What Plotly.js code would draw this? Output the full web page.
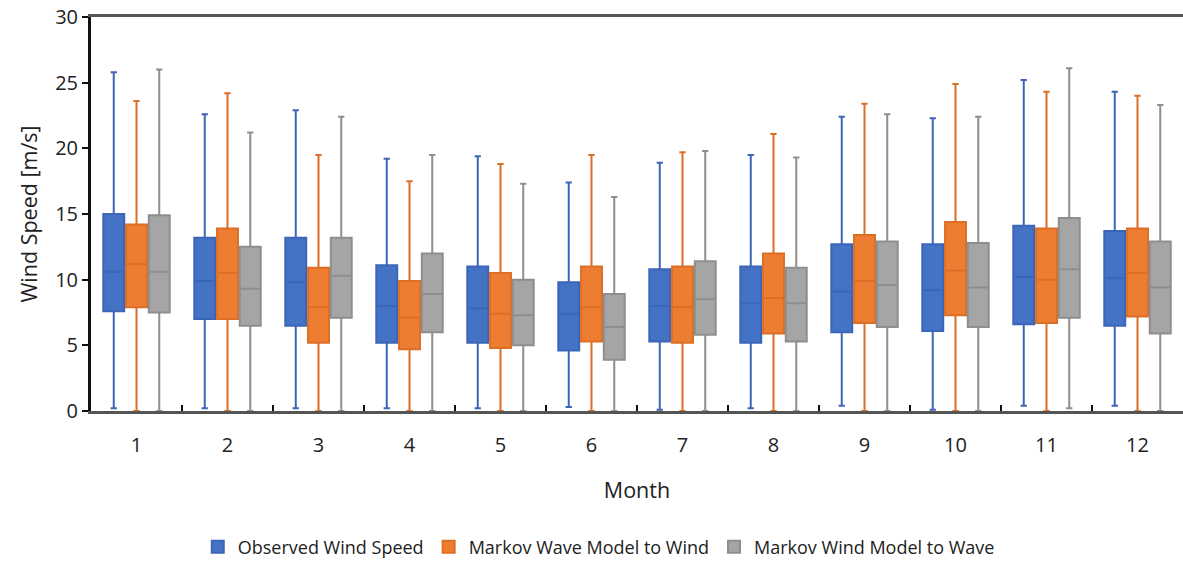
<!DOCTYPE html>
<html>
<head>
<meta charset="utf-8">
<script src="https://cdn.plot.ly/plotly-3.0.1.min.js"></script>
<style>html,body{margin:0;padding:0;background:#fff;}#chart{width:1183px;height:561px;}</style>
</head>
<body>
<div id="chart"></div>
<script>
const months = ['1','2','3','4','5','6','7','8','9','10','11','12'];

// Observed Wind Speed
const obsLow = [0.2,0.2,0.2,0.2,0.2,0.3,0.1,0.2,0.4,0.1,0.4,0.4];
const obsQ1  = [7.6,7.0,6.5,5.2,5.2,4.6,5.3,5.2,6.0,6.1,6.6,6.5];
const obsMed = [10.6,9.9,9.8,8.0,7.8,7.4,8.0,8.2,9.1,9.2,10.2,10.1];
const obsQ3  = [15.0,13.2,13.2,11.1,11.0,9.8,10.8,11.0,12.7,12.7,14.1,13.7];
const obsHigh= [25.8,22.6,22.9,19.2,19.4,17.4,18.9,19.5,22.4,22.3,25.2,24.3];

// Markov Wave Model to Wind
const wavLow = [0,0,0,0,0,0,0,0,0,0,0,0];
const wavQ1  = [7.9,7.0,5.2,4.7,4.8,5.3,5.2,5.9,6.7,7.3,6.7,7.2];
const wavMed = [11.2,10.5,7.9,7.1,7.4,7.9,7.9,8.6,9.9,10.7,10.0,10.5];
const wavQ3  = [14.2,13.9,10.9,9.9,10.5,11.0,11.0,12.0,13.4,14.4,13.9,13.9];
const wavHigh= [23.6,24.2,19.5,17.5,18.8,19.5,19.7,21.1,23.4,24.9,24.3,24.0];

// Markov Wind Model to Wave
const wndLow = [0,0,0,0,0,0,0,0,0,0,0.2,0];
const wndQ1  = [7.5,6.5,7.1,6.0,5.0,3.9,5.8,5.3,6.4,6.4,7.1,5.9];
const wndMed = [10.6,9.3,10.3,8.9,7.3,6.4,8.5,8.2,9.6,9.4,10.8,9.4];
const wndQ3  = [14.9,12.5,13.2,12.0,10.0,8.9,11.4,10.9,12.9,12.8,14.7,12.9];
const wndHigh= [26.0,21.2,22.4,19.5,17.3,16.3,19.8,19.3,22.6,22.4,26.1,23.3];

function boxTrace(name, low, q1, med, q3, high, fill, line) {
  return {
    type: 'box', name: name, x: months,
    lowerfence: low, q1: q1, median: med, q3: q3, upperfence: high,
    fillcolor: fill,
    line: {color: line, width: 2},
    whiskerwidth: 0.3,
    boxpoints: false,
    hoverinfo: 'y'
  };
}

const data = [
  boxTrace('Observed Wind Speed', obsLow, obsQ1, obsMed, obsQ3, obsHigh, '#4472C4', '#3B66B8'),
  boxTrace('Markov Wave Model to Wind', wavLow, wavQ1, wavMed, wavQ3, wavHigh, '#ED7D31', '#DC6E26'),
  boxTrace('Markov Wind Model to Wave', wndLow, wndQ1, wndMed, wndQ3, wndHigh, '#A5A5A5', '#8E8E8E')
];

const layout = {
  width: 1183, height: 561,
  margin: {l: 91, r: 0, t: 17, b: 150, autoexpand: false},
  paper_bgcolor: '#fff', plot_bgcolor: '#fff',
  font: {family: 'Open Sans, sans-serif', size: 20, color: '#222'},
  boxmode: 'group',
  boxgap: 0.25,
  boxgroupgap: 0.08,
  showlegend: true,
  legend: {
    orientation: 'h', x: 0.465, xanchor: 'center', y: -0.345, yanchor: 'middle',
    font: {size: 18, color: '#222'}, traceorder: 'normal'
  },
  xaxis: {
    type: 'category', automargin: false,
    title: {text: 'Month', font: {size: 21.5}, standoff: 26},
    tickfont: {size: 20},
    ticks: 'inside', tickson: 'boundaries', ticklen: 6, tickwidth: 2, tickcolor: '#111',
    ticklabelstandoff: 14,
    showline: true, linecolor: '#555', linewidth: 3, mirror: true,
    showgrid: false, zeroline: false
  },
  yaxis: {
    range: [0, 30], dtick: 5, automargin: false,
    title: {text: 'Wind Speed [m/s]', font: {size: 21.5}, standoff: 12},
    tickfont: {size: 20},
    ticks: 'outside', ticklen: 6, tickwidth: 2, tickcolor: '#111',
    showline: true, linecolor: '#111', linewidth: 3,
    showgrid: false, zeroline: false
  }
};

Plotly.newPlot('chart', data, layout, {displayModeBar: false, staticPlot: true});
</script>
</body>
</html>
